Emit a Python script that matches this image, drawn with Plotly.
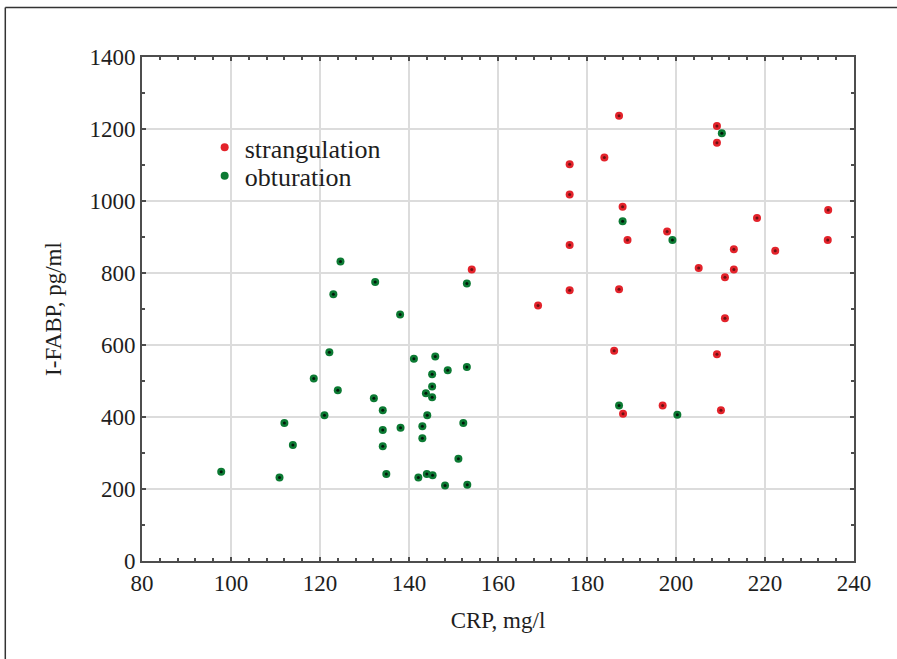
import plotly.graph_objects as go

# strangulation (red)
strang_crp = [187.2, 209.2, 209.2, 183.9, 176.1, 176.1, 188.0, 234.2, 218.2, 198.0,
              189.1, 234.1, 176.1, 213.0, 222.3, 205.1, 213.0, 154.1, 211.0, 187.2,
              176.1, 169.0, 211.0, 186.1, 209.2, 197.0, 188.1, 210.1]
strang_fabp = [1237, 1208, 1162, 1121, 1102, 1018, 984, 975, 953, 915,
               892, 892, 878, 866, 862, 814, 810, 810, 788, 755,
               752, 710, 674, 584, 574, 432, 409, 419]

# obturation (green)
obtur_crp = [97.8, 110.9, 112.0, 113.9, 118.6, 122.1, 121.0, 124.0, 132.1, 134.1,
             134.1, 134.1, 134.9, 138.1, 141.1, 142.1, 143.0, 143.0, 143.8, 144.1,
             144.0, 145.2, 145.2, 145.2, 145.3, 145.9, 148.1, 148.7, 152.2, 151.1,
             153.1, 153.0, 153.0, 138.0, 124.6, 132.4, 123.0, 210.3, 188.0, 199.2,
             187.2, 200.3]
obtur_fabp = [248, 232, 383, 322, 507, 580, 405, 474, 452, 419,
              364, 319, 242, 370, 562, 232, 374, 341, 466, 405,
              242, 519, 485, 455, 238, 568, 210, 530, 383, 284,
              212, 539, 771, 685, 832, 775, 741, 1188, 944, 892,
              432, 406]

x_ticks = [80, 100, 120, 140, 160, 180, 200, 220, 240]
y_ticks = [0, 200, 400, 600, 800, 1000, 1200, 1400]

RED = "#e3232b"
GREEN = "#0c7a33"
FONT = "Liberation Serif"
TXT = "#1e1e1e"

fig = go.Figure()
fig.add_trace(go.Scatter(x=strang_crp, y=strang_fabp, mode="markers", name="strangulation",
                         legend="legend", marker=dict(color=RED, size=8)))
fig.add_trace(go.Scatter(x=obtur_crp, y=obtur_fabp, mode="markers", name="obturation",
                         legend="legend2", marker=dict(color=GREEN, size=8)))
# dark centres of the dots
fig.add_trace(go.Scatter(x=strang_crp, y=strang_fabp, mode="markers", showlegend=False,
                         hoverinfo="skip", marker=dict(color="#3a0808", size=3, opacity=0.7)))
fig.add_trace(go.Scatter(x=obtur_crp, y=obtur_fabp, mode="markers", showlegend=False,
                         hoverinfo="skip", marker=dict(color="#000000", size=3, opacity=0.8)))

axis_common = dict(
    showline=True, linecolor="#4d4d4d", linewidth=2, mirror="ticks",
    ticks="inside", ticklen=4, tickcolor="#4d4d4d", tickwidth=1.5,
    showgrid=True, gridcolor="#dcdcdc", gridwidth=1.5, zeroline=False,
    tickfont=dict(family=FONT, size=23, color=TXT),
)

fig.update_xaxes(range=[80, 240], tickvals=x_ticks, ticktext=[str(v) for v in x_ticks],
                 minor=dict(dtick=4, tick0=80, ticks="inside", ticklen=3, tickcolor="#4d4d4d", showgrid=False),
                 title=dict(text="CRP, mg/l", font=dict(family=FONT, size=23, color=TXT), standoff=17),
                 **axis_common)
fig.update_yaxes(range=[0, 1400], tickvals=y_ticks, ticktext=[str(v) for v in y_ticks],
                 minor=dict(dtick=100, tick0=0, ticks="inside", ticklen=3, tickcolor="#4d4d4d", showgrid=False),
                 title=dict(text="I-FABP, pg/ml", font=dict(family=FONT, size=23, color=TXT), standoff=21),
                 **axis_common)

legend_common = dict(xanchor="left", yanchor="middle", bgcolor="rgba(0,0,0,0)",
                     font=dict(family=FONT, size=26, color=TXT), itemsizing="trace")

fig.update_layout(
    width=897, height=659,
    margin=dict(l=142, r=43, t=57, b=98, autoexpand=False),
    paper_bgcolor="white", plot_bgcolor="white",
    showlegend=True,
    legend=dict(x=0.088, y=0.8205, **legend_common),
    legend2=dict(x=0.088, y=0.7644, **legend_common),
    shapes=[
        dict(type="line", xref="paper", yref="paper", x0=-0.192, x1=-0.192, y0=-0.3, y1=1.098,
             line=dict(color="#333333", width=1.5)),
        dict(type="line", xref="paper", yref="paper", x0=-0.192, x1=1.2, y0=1.098, y1=1.098,
             line=dict(color="#333333", width=1.5)),
    ],
)

fig.write_html("out.html", config={"displayModeBar": False},
               post_script="document.body.style.margin='0';document.body.style.overflow='hidden';")
